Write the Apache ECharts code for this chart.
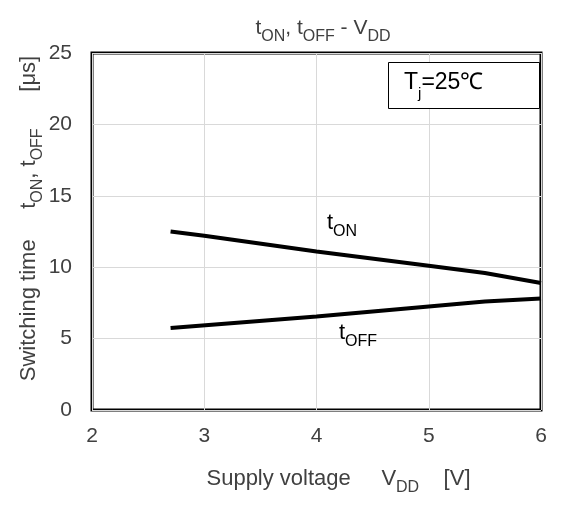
<!DOCTYPE html>
<html><head><meta charset="utf-8">
<script src="https://cdn.jsdelivr.net/npm/echarts@6/dist/echarts.min.js"></script>
<style>html,body{margin:0;padding:0;background:#fff}#c{width:565px;height:507px}</style>
</head><body><div id="c"></div>
<script>
const vddOn = [2.7, 3, 4, 5, 5.5, 6];
const tOn = [12.5, 12.2, 11.1, 10.1, 9.6, 8.9];
const vddOff = [2.7, 4, 5, 5.5, 6];
const tOff = [5.75, 6.55, 7.25, 7.6, 7.8];
const xTicks = [2, 3, 4, 5, 6];
const yTicks = [0, 5, 10, 15, 20, 25];

const F = 'Liberation Sans, Arial, sans-serif';
const txt = '#404040';
const sub = (sz, c) => ({fontSize: sz, fontFamily: F, color: c || txt, verticalAlign: 'bottom', padding: [0,0,-6,0]});
const chart = echarts.init(document.getElementById('c'));
chart.setOption({
  animation: false,
  backgroundColor: '#fff',
  title: {
    text: '{n|t}{s|ON}{n|, t}{s|OFF}{n| - V}{s|DD}',
    left: 318, top: 13, textAlign: 'center',
    textStyle: {fontWeight: 'normal', rich: {n: {fontSize: 21, fontFamily: F, color: txt}, s: sub(16)}}
  },
  grid: {left: 92, right: 24, top: 53, bottom: 97, show: true, borderColor: '#000', borderWidth: 3, backgroundColor: 'transparent'},
  xAxis: {
    type: 'value', min: 2, max: 6, interval: 1,
    axisLine: {show: false}, axisTick: {show: false},
    splitLine: {lineStyle: {color: '#d9d9d9', width: 1}},
    axisLabel: {fontSize: 21, fontFamily: F, color: txt, margin: 16,
      formatter: v => xTicks.includes(v) ? String(v) : ''},
    name: '{n|Supply voltage     V}{s|DD}{n|    [V]}',
    nameLocation: 'middle', nameGap: 58,
    nameTextStyle: {padding: [0, 0, 0, 44], rich: {n: {fontSize: 22, fontFamily: F, color: txt}, s: sub(16)}}
  },
  yAxis: {
    type: 'value', min: 0, max: 25, interval: 5,
    axisLine: {show: false}, axisTick: {show: false},
    splitLine: {lineStyle: {color: '#d9d9d9', width: 1}},
    axisLabel: {fontSize: 21, fontFamily: F, color: txt, margin: 20,
      formatter: v => yTicks.includes(v) ? String(v) : ''},
    name: '{n|Switching time     t}{s|ON}{n|, t}{s|OFF}{n|      [μs]}',
    nameLocation: 'middle', nameGap: 52, nameMoveOverlap: false,
    nameTextStyle: {padding: [0, 0, 0, 26], rich: {n: {fontSize: 22, fontFamily: F, color: txt}, s: sub(16)}}
  },
  series: [
    {type: 'line', data: vddOn.map((x, i) => [x, tOn[i]]), symbol: 'none', lineStyle: {color: '#000', width: 4}},
    {type: 'line', data: vddOff.map((x, i) => [x, tOff[i]]), symbol: 'none', lineStyle: {color: '#000', width: 4}}
  ],
  graphic: [
    {type: 'rect', left: 388, top: 62, shape: {width: 151, height: 46}, style: {fill: '#fff', stroke: '#000', lineWidth: 1}, z: 100},
    {type: 'text', left: 404, top: 71, z: 101, style: {
      text: '{n|T}{s|j}{n|=25℃}',
      rich: {n: {fontSize: 23, fontFamily: F, fill: '#000'}, s: {fontSize: 15, fontFamily: F, fill: '#000', verticalAlign: 'bottom', padding: [0,0,-7,0]}}}},
    {type: 'text', left: 327, top: 212, z: 101, style: {
      text: '{n|t}{s|ON}',
      rich: {n: {fontSize: 22, fontFamily: F, fill: '#000'}, s: {fontSize: 16, fontFamily: F, fill: '#000', verticalAlign: 'bottom', padding: [0,0,-6,0]}}}},
    {type: 'text', left: 339, top: 322, z: 101, style: {
      text: '{n|t}{s|OFF}',
      rich: {n: {fontSize: 22, fontFamily: F, fill: '#000'}, s: {fontSize: 16, fontFamily: F, fill: '#000', verticalAlign: 'bottom', padding: [0,0,-6,0]}}}}
  ]
});
</script></body></html>
